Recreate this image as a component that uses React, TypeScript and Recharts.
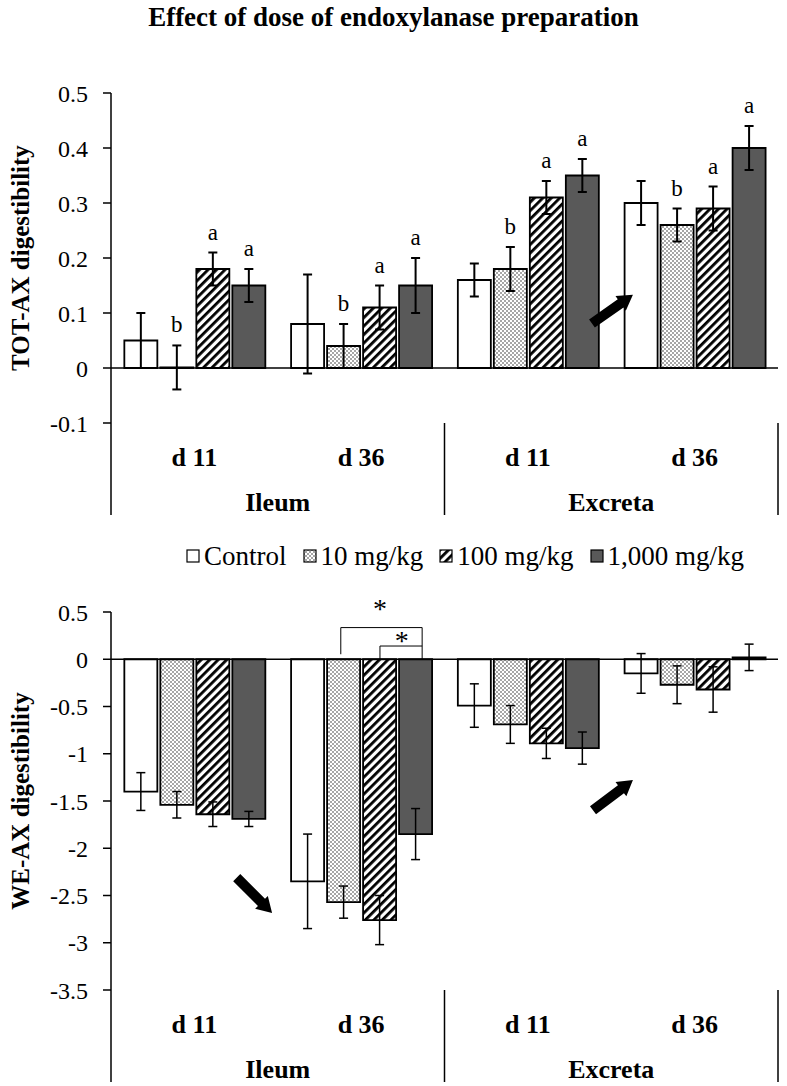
import React from 'react'
import { BarChart, Bar, XAxis, YAxis, ErrorBar, LabelList, ReferenceLine, ReferenceDot } from 'recharts'

const FONT = '"Liberation Serif", "Times New Roman", serif'

const sites = ['Ileum', 'Ileum', 'Excreta', 'Excreta']
const days = ['d 11', 'd 36', 'd 11', 'd 36']

// TOT-AX digestibility (top panel)
const totControl = [0.05, 0.08, 0.16, 0.3]
const tot10 = [0.001, 0.04, 0.18, 0.26]
const tot100 = [0.18, 0.11, 0.31, 0.29]
const tot1000 = [0.15, 0.15, 0.35, 0.4]
const totErrControl = [0.05, 0.09, 0.03, 0.04]
const totErr10 = [0.04, 0.04, 0.04, 0.03]
const totErr100 = [0.03, 0.04, 0.03, 0.04]
const totErr1000 = [0.03, 0.05, 0.03, 0.04]
const totLetControl = ['', '', '', '']
const totLet10 = ['b', 'b', 'b', 'b']
const totLet100 = ['a', 'a', 'a', 'a']
const totLet1000 = ['a', 'a', 'a', 'a']
const totTicks = [-0.1, 0, 0.1, 0.2, 0.3, 0.4, 0.5]

// WE-AX digestibility (bottom panel)
const weControl = [-1.4, -2.35, -0.49, -0.15]
const we10 = [-1.54, -2.57, -0.69, -0.27]
const we100 = [-1.64, -2.76, -0.89, -0.32]
const we1000 = [-1.69, -1.85, -0.94, 0.02]
const weErrControl = [0.2, 0.5, 0.23, 0.21]
const weErr10 = [0.14, 0.17, 0.2, 0.2]
const weErr100 = [0.13, 0.26, 0.16, 0.24]
const weErr1000 = [0.08, 0.27, 0.17, 0.14]
const weTicks = [-3.5, -3, -2.5, -2, -1.5, -1, -0.5, 0, 0.5]

// annotations, in data units (x: 0..4 across the four groups)
const totArrows = [{ x: 3.13, y: 0.133, angle: -35 }]
const weArrows = [
  { x: 0.966, y: -2.685, angle: 45 },
  { x: 3.13, y: -1.279, angle: -37 },
]
const weBrackets = [
  { x1: 1.378, x2: 1.866, top: 0.335, leftFoot: 0.053 },
  { x1: 1.613, x2: 1.866, top: 0.14, leftFoot: 0 },
]
const weStars = [
  { x: 1.613, y: 0.57 },
  { x: 1.743, y: 0.236 },
]

const series = [
  { key: 'ctrl', name: 'Control', fill: '#ffffff' },
  { key: 'd10', name: '10 mg/kg', fill: 'url(#dots)' },
  { key: 'd100', name: '100 mg/kg', fill: 'url(#hatch)' },
  { key: 'd1000', name: '1,000 mg/kg', fill: '#595959' },
]

const totRows = days.map((day, i) => ({
  day,
  site: sites[i],
  slot: i + 0.5,
  ctrl: totControl[i], ctrlErr: totErrControl[i], ctrlLift: totErrControl[i], ctrlLet: totLetControl[i],
  d10: tot10[i], d10Err: totErr10[i], d10Lift: totErr10[i], d10Let: totLet10[i],
  d100: tot100[i], d100Err: totErr100[i], d100Lift: totErr100[i], d100Let: totLet100[i],
  d1000: tot1000[i], d1000Err: totErr1000[i], d1000Lift: totErr1000[i], d1000Let: totLet1000[i],
}))

const weRows = days.map((day, i) => ({
  day,
  site: sites[i],
  slot: i + 0.5,
  ctrl: weControl[i], ctrlErr: weErrControl[i],
  d10: we10[i], d10Err: weErr10[i],
  d100: we100[i], d100Err: weErr100[i],
  d1000: we1000[i], d1000Err: weErr1000[i],
}))

const W = 787

function Patterns() {
  return (
    <svg width={0} height={0} style={{ position: 'absolute' }}>
      <defs>
        <pattern id="dots" width="4" height="4" patternUnits="userSpaceOnUse">
          <rect width="4" height="4" fill="#fff" />
          <circle cx="1" cy="1" r="0.75" fill="#222" />
          <circle cx="3" cy="3" r="0.75" fill="#222" />
        </pattern>
        <pattern id="hatch" width="6" height="6" patternUnits="userSpaceOnUse" patternTransform="rotate(45)">
          <rect width="6" height="6" fill="#fff" />
          <rect width="2.8" height="6" fill="#000" />
        </pattern>
      </defs>
    </svg>
  )
}

// day label under each group, site label + separators under each pair
function GroupTick(props: any) {
  const { x, y, payload, index } = props
  const half = payload?.offset ?? 83.4
  const i = index ?? payload?.index ?? 0
  const txt = { fontFamily: FONT, fontSize: 26, fontWeight: 'bold' as const, fill: '#000' }
  return (
    <g>
      <text x={x} y={y + 34} textAnchor="middle" dominantBaseline="central" {...txt}>{days[i]}</text>
      {i % 2 === 1 && (
        <text x={x - half} y={y + 79} textAnchor="middle" dominantBaseline="central" {...txt}>{sites[i]}</text>
      )}
      {i === 0 && <line x1={x - half} x2={x - half} y1={y} y2={y + 92} stroke="#000" strokeWidth={1.5} />}
      {i % 2 === 1 && <line x1={x + half} x2={x + half} y1={y} y2={y + 92} stroke="#000" strokeWidth={1.5} />}
    </g>
  )
}

function LetterLabel(props: any) {
  const { x, y, width, value } = props
  if (!value) return null
  return (
    <text x={x + width / 2} y={y - 13} textAnchor="middle" fontFamily={FONT} fontSize={23} fill="#000">
      {value}
    </text>
  )
}

function Arrow({ cx, cy, angle }: { cx: number; cy: number; angle: number }) {
  return (
    <polygon
      points="0,0 -15,-9 -15,-5 -50,-5 -50,5 -15,5 -15,9"
      fill="#000"
      transform={`translate(${cx},${cy}) rotate(${angle})`}
    />
  )
}

const tickStyle = { fill: '#000', fontSize: 24, fontFamily: FONT }
const labelStyle = { textAnchor: 'middle', fontWeight: 'bold', fontSize: 25, fontFamily: FONT, fill: '#000' }

function TopChart() {
  return (
    <BarChart width={W} height={463} data={totRows} margin={{ top: 33, right: 9, bottom: 0, left: 0 }} barCategoryGap="8%" barGap={3}>
      <XAxis dataKey="day" height={100} axisLine={false} tickLine={false} tickSize={0} tickMargin={0} interval={0} tick={<GroupTick />} />
      <XAxis xAxisId="pos" dataKey="slot" type="number" domain={[0, 4]} allowDataOverflow hide />
      <YAxis
        domain={[-0.1, 0.5]}
        ticks={totTicks}
        interval={0}
        width={111}
        tickSize={8}
        tickMargin={15}
        axisLine={{ stroke: '#000', strokeWidth: 1.5 }}
        tickLine={{ stroke: '#000', strokeWidth: 1.5 }}
        tick={tickStyle}
        allowDataOverflow
        label={{ value: 'TOT-AX digestibility', angle: -90, position: 'insideLeft', offset: 20, style: labelStyle }}
      />
      {series.map((s) => [
        <Bar key={s.key} dataKey={s.key} name={s.name} stackId={s.key} fill={s.fill} stroke="#000" strokeWidth={1.8} isAnimationActive={false}>
          <ErrorBar dataKey={`${s.key}Err`} width={4.5} stroke="#000" strokeWidth={2} direction="y" isAnimationActive={false} />
        </Bar>,
        <Bar key={`${s.key}Lift`} dataKey={`${s.key}Lift`} stackId={s.key} fill="none" stroke="none" legendType="none" isAnimationActive={false}>
          <LabelList dataKey={`${s.key}Let`} content={<LetterLabel />} />
        </Bar>,
      ])}
      <ReferenceLine y={0} stroke="#000" strokeWidth={1.5} />
      {totArrows.map((a, i) => (
        <ReferenceDot key={`ta${i}`} xAxisId="pos" x={a.x} y={a.y} r={0} ifOverflow="visible" shape={(p: any) => <Arrow cx={p.cx} cy={p.cy} angle={a.angle} />} />
      ))}
    </BarChart>
  )
}

function BottomChart() {
  return (
    <BarChart width={W} height={505} data={weRows} margin={{ top: 33, right: 9, bottom: 0, left: 0 }} barCategoryGap="8%" barGap={3}>
      <XAxis dataKey="day" height={94} axisLine={false} tickLine={false} tickSize={0} tickMargin={0} interval={0} tick={<GroupTick />} />
      <XAxis xAxisId="pos" dataKey="slot" type="number" domain={[0, 4]} allowDataOverflow hide />
      <YAxis
        domain={[-3.5, 0.5]}
        ticks={weTicks}
        interval={0}
        width={111}
        tickSize={8}
        tickMargin={15}
        axisLine={{ stroke: '#000', strokeWidth: 1.5 }}
        tickLine={{ stroke: '#000', strokeWidth: 1.5 }}
        tick={tickStyle}
        allowDataOverflow
        label={{ value: 'WE-AX digestibility', angle: -90, position: 'insideLeft', offset: 20, style: labelStyle }}
      />
      {series.map((s) => (
        <Bar key={s.key} dataKey={s.key} name={s.name} fill={s.fill} stroke="#000" strokeWidth={1.8} isAnimationActive={false}>
          <ErrorBar dataKey={`${s.key}Err`} width={4.5} stroke="#000" strokeWidth={1.5} direction="y" isAnimationActive={false} />
        </Bar>
      ))}
      <ReferenceLine y={0} stroke="#000" strokeWidth={1.5} />
      {weBrackets.map((b, i) => [
        <ReferenceLine key={`bl${i}`} xAxisId="pos" ifOverflow="visible" segment={[{ x: b.x1, y: b.leftFoot }, { x: b.x1, y: b.top }]} stroke="#000" strokeWidth={1} />,
        <ReferenceLine key={`bt${i}`} xAxisId="pos" ifOverflow="visible" segment={[{ x: b.x1, y: b.top }, { x: b.x2, y: b.top }]} stroke="#000" strokeWidth={1} />,
        i === 0 ? <ReferenceLine key={`br${i}`} xAxisId="pos" ifOverflow="visible" segment={[{ x: b.x2, y: b.top }, { x: b.x2, y: 0 }]} stroke="#000" strokeWidth={1} /> : null,
      ])}
      {weStars.map((s, i) => (
        <ReferenceDot
          key={`st${i}`}
          xAxisId="pos"
          x={s.x}
          y={s.y}
          r={0}
          ifOverflow="visible"
          shape={(p: any) => (
            <text x={p.cx} y={p.cy + 13} textAnchor="middle" fontFamily={FONT} fontSize={28} fill="#000">*</text>
          )}
        />
      ))}
      {weArrows.map((a, i) => (
        <ReferenceDot key={`wa${i}`} xAxisId="pos" x={a.x} y={a.y} r={0} ifOverflow="visible" shape={(p: any) => <Arrow cx={p.cx} cy={p.cy} angle={a.angle} />} />
      ))}
    </BarChart>
  )
}

function LegendRow() {
  return (
    <div style={{ position: 'absolute', top: 541, left: 186, display: 'flex', alignItems: 'center', fontFamily: FONT, fontSize: 27, lineHeight: '30px', color: '#000' }}>
      {series.map((s, i) => (
        <div key={s.key} style={{ display: 'flex', alignItems: 'center', marginLeft: i === 0 ? 0 : 16 }}>
          <svg width={14} height={14} style={{ marginRight: 4 }}>
            <rect x={1} y={1} width={12} height={12} fill={s.fill} stroke="#000" strokeWidth={1.2} />
          </svg>
          <span>{s.name}</span>
        </div>
      ))}
    </div>
  )
}

export default function App() {
  return (
    <div style={{ position: 'absolute', left: 0, top: 0, width: W, height: 1086, overflow: 'hidden', background: '#fff' }}>
      <Patterns />
      <div style={{ position: 'absolute', top: 0, left: 0, width: W, textAlign: 'center', fontFamily: FONT, fontSize: 27, fontWeight: 'bold', lineHeight: '34px' }}>
        Effect of dose of endoxylanase preparation
      </div>
      <div style={{ position: 'absolute', top: 60, left: 0 }}>
        <TopChart />
      </div>
      <LegendRow />
      <div style={{ position: 'absolute', top: 579, left: 0 }}>
        <BottomChart />
      </div>
    </div>
  )
}
